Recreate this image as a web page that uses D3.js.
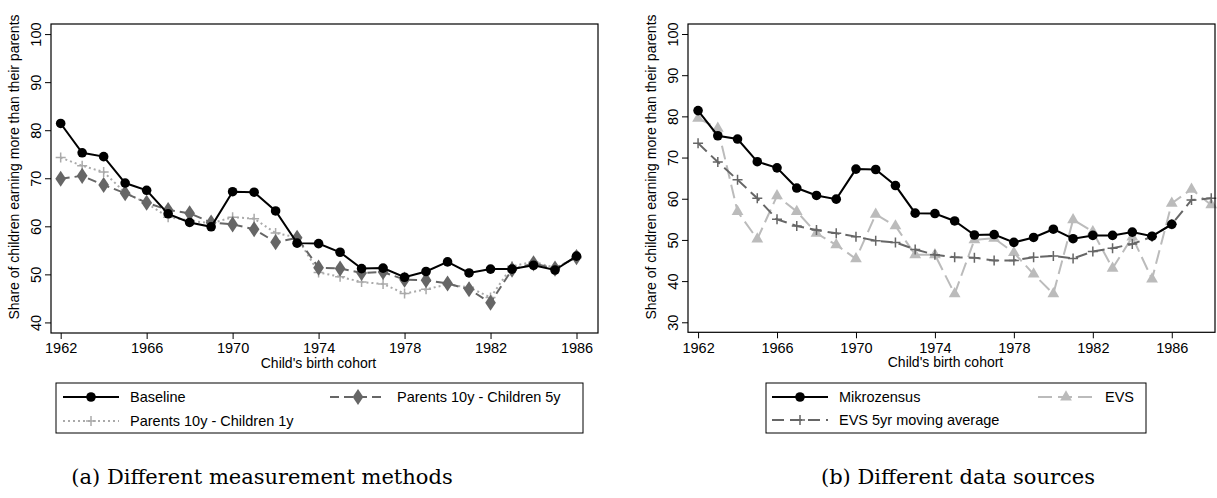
<!DOCTYPE html>
<head>
<meta charset="utf-8">
<script src="https://d3js.org/d3.v7.min.js"></script>
</head>
<style>
body { margin: 0; background: #fff; }
text { font-family: "Liberation Sans", Arial, sans-serif; fill: #000; }
.caption { font-family: "DejaVu Serif", serif; font-size: 21px; }
</style>
<body>
<script>
// data
var yearsA = d3.range(1962, 1987);
var baseline = [81.4, 75.3, 74.5, 69.0, 67.5, 62.6, 60.8, 59.9, 67.2, 67.1, 63.2, 56.5,
                56.4, 54.6, 51.2, 51.3, 49.4, 50.6, 52.6, 50.3, 51.1, 51.1, 51.9, 50.9, 53.8];
var par5y = [69.9, 70.5, 68.6, 66.9, 64.9, 63.4, 62.7, 60.8, 60.4, 59.4, 56.7, 57.6,
             51.4, 51.2, 50.3, 50.5, 48.9, 48.8, 48.1, 46.9, 44.1, 51.0, 52.3, 51.2, 53.6];
var par1y = [74.3, 72.6, 71.3, 67.0, 64.8, 61.9, 61.2, 60.6, 61.9, 61.6, 58.6, 57.7,
             50.4, 49.5, 48.4, 48.0, 46.0, 46.9, 47.9, 47.3, 45.2, 51.7, 52.6, 51.4, 53.4];

var yearsB = d3.range(1962, 1989);
var mikro = baseline;
var evs = [79.5, 77.1, 56.9, 50.2, 60.7, 56.9, 51.6, 48.8, 45.4, 56.2, 53.4, 46.4, 46.4,
           36.9, 50.0, 50.4, 46.9, 41.7, 36.9, 54.9, 52.0, 43.1, 50.7, 40.5, 58.9, 62.3, 58.5];
var evsMA = [73.5, 68.9, 64.6, 60.1, 55.0, 53.4, 52.4, 51.6, 50.8, 49.8, 49.4, 47.7, 46.4,
             45.8, 45.7, 45.0, 45.0, 45.8, 46.1, 45.5, 47.2, 48.0, 49.0, 50.8, 53.8, 59.7, 60.1];

var xTicks = [1962, 1966, 1970, 1974, 1978, 1982, 1986];

var W = 1217, H = 498;
var svg = d3.select("body").append("svg").attr("width", W).attr("height", H);

var styles = {
  black:  {color: "#000", dash: null, marker: "circle"},
  dash5:  {color: "#666", dash: "9,5", marker: "diamond"},
  dot1:   {color: "#aaa", dash: "2,3", marker: "plus"},
  evs:    {color: "#bbb", dash: "14,6", marker: "triangle"},
  evsMA:  {color: "#666", dash: "12,6", marker: "plus"}
};

function marker(g, type, color, x, y) {
  if (type == "circle") {
    g.append("circle").attr("cx", x).attr("cy", y).attr("r", 4.8).attr("fill", color);
  } else if (type == "diamond") {
    g.append("path").attr("d", d3.symbol(d3.symbolDiamond, 75)()).attr("transform", "translate(" + x + "," + y + ") scale(1.15,1)").attr("fill", color);
  } else if (type == "triangle") {
    g.append("path").attr("d", d3.symbol(d3.symbolTriangle, 60)()).attr("transform", "translate(" + x + "," + y + ")").attr("fill", color);
  } else {
    g.append("path").attr("d", "M" + (x - 5) + "," + y + "H" + (x + 5) + "M" + x + "," + (y - 5) + "V" + (y + 5))
      .attr("stroke", color).attr("stroke-width", 1.5);
  }
}

function panel(cfg) {
  var x = d3.scaleLinear().domain(cfg.xd).range([cfg.left, cfg.right]);
  var y = d3.scaleLinear().domain(cfg.yd).range([cfg.bottom, cfg.top]);
  var g = svg.append("g");

  cfg.series.forEach(function(s) {
    var st = styles[s.style];
    var pts = s.values.map(function(v, i) { return [cfg.years[i], v]; });
    var line = d3.line().x(function(d) { return x(d[0]); }).y(function(d) { return y(d[1]); });
    g.append("path").datum(pts).attr("d", line).attr("fill", "none")
      .attr("stroke", st.color).attr("stroke-width", 2).attr("stroke-dasharray", st.dash);
    pts.forEach(function(d) { marker(g, st.marker, st.color, x(d[0]), y(d[1])); });
  });

  g.append("rect").attr("x", cfg.left).attr("y", cfg.top)
    .attr("width", cfg.right - cfg.left).attr("height", cfg.bottom - cfg.top)
    .attr("fill", "none").attr("stroke", "#000").attr("stroke-width", 1.2);

  var ax = g.append("g").attr("transform", "translate(0," + cfg.bottom + ")")
    .call(d3.axisBottom(x).tickValues(xTicks).tickFormat(d3.format("d")).tickSize(6).tickPadding(4));
  ax.select(".domain").remove();
  ax.selectAll("text").style("font-size", "14.5px").style("font-family", "Liberation Sans");

  var ay = g.append("g").attr("transform", "translate(" + cfg.left + ",0)")
    .call(d3.axisLeft(y).tickValues(cfg.yTicks).tickSize(6).tickPadding(4));
  ay.select(".domain").remove();
  ay.selectAll("text").style("font-size", "14.5px").style("font-family", "Liberation Sans")
    .attr("text-anchor", "middle").attr("dy", null)
    .attr("transform", "translate(-14,0) rotate(-90)").attr("x", 0).attr("y", 0)
    .attr("dominant-baseline", "middle");

  g.append("text").attr("x", (cfg.left + cfg.right) / 2 - 6).attr("y", cfg.bottom + 35)
    .attr("text-anchor", "middle").style("font-size", "14px").text("Child's birth cohort");
  g.append("text").attr("transform", "translate(" + (cfg.left - 32) + "," + (cfg.top + 143) + ") rotate(-90)")
    .attr("text-anchor", "middle").style("font-size", "14px")
    .text("Share of children earning more than their parents");

  // legend
  var L = cfg.legend;
  g.append("rect").attr("x", L.x0).attr("y", 383).attr("width", L.x1 - L.x0).attr("height", 50)
    .attr("fill", "none").attr("stroke", "#000").attr("stroke-width", 1);
  L.items.forEach(function(it) {
    var st = styles[it.style];
    g.append("line").attr("x1", it.lx).attr("x2", it.lx + 56).attr("y1", it.y).attr("y2", it.y)
      .attr("stroke", st.color).attr("stroke-width", 2).attr("stroke-dasharray", st.dash);
    marker(g, st.marker, st.color, it.lx + 28, it.y);
    g.append("text").attr("x", it.lx + 67).attr("y", it.y).attr("dy", "0.35em")
      .style("font-size", "14.5px").text(it.label);
  });

  svg.append("text").attr("class", "caption").attr("x", cfg.capX).attr("y", 484)
    .attr("text-anchor", "middle").text(cfg.caption);
}

panel({
  left: 51, right: 598, top: 24, bottom: 333,
  xd: [1961.55, 1987], yd: [37.8, 102.1], yTicks: [40, 50, 60, 70, 80, 90, 100],
  years: yearsA,
  series: [{values: par1y, style: "dot1"}, {values: par5y, style: "dash5"}, {values: baseline, style: "black"}],
  legend: {x0: 56, x1: 583, items: [
    {label: "Baseline", style: "black", lx: 63, y: 397},
    {label: "Parents 10y - Children 5y", style: "dash5", lx: 330, y: 397},
    {label: "Parents 10y - Children 1y", style: "dot1", lx: 63, y: 421}]},
  caption: "(a) Different measurement methods", capX: 262
});

panel({
  left: 688, right: 1215, top: 24, bottom: 332.3,
  xd: [1961.49, 1988.19], yd: [27.57, 102.43], yTicks: [30, 40, 50, 60, 70, 80, 90, 100],
  years: yearsB,
  series: [{values: evs, style: "evs"}, {values: evsMA, style: "evsMA"}, {values: mikro, style: "black"}],
  legend: {x0: 766, x1: 1146, items: [
    {label: "Mikrozensus", style: "black", lx: 772, y: 397},
    {label: "EVS", style: "evs", lx: 1038, y: 397},
    {label: "EVS 5yr moving average", style: "evsMA", lx: 772, y: 420}]},
  caption: "(b) Different data sources", capX: 958
});
</script>
</body>
